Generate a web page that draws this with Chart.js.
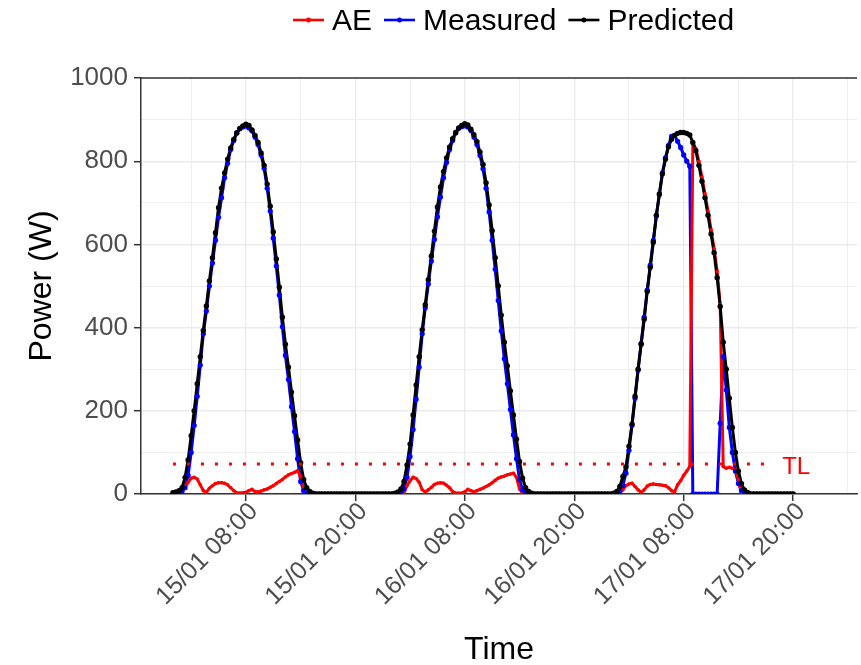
<!DOCTYPE html>
<html><head><meta charset="utf-8">
<script src="https://cdn.jsdelivr.net/npm/chart.js@4.4.1/dist/chart.umd.min.js"></script>
<style>html,body{margin:0;padding:0;background:#fff;}#wrap{width:861px;height:665px;}</style>
</head><body><div id="wrap"><canvas id="c" width="861" height="665"></canvas></div>
<script>
// Samples every 20 minutes starting at 15/01 00:00 (x value = hours since that instant)
const sampleStepHours = 1 / 3;
const seriesNames = ['AE', 'Measured', 'Predicted'];
const seriesColors = ['#FF0000', '#0000FF', '#000000'];

const predicted = [
  3,5,8,15,40,82,140,200,265,330,393,452,512,568,628,688,735,772,805,832,852,868,879,885,889,886,875,862,845,820,790,745,692,630,565,497,425,360,305,245,188,130,75,35,15,6,2,0,
  0,0,0,0,0,0,0,0,0,0,0,0,0,0,0,0,0,0,0,0,0,0,0,0,
  0,2,5,12,30,70,120,190,262,330,395,455,515,572,632,690,738,775,808,834,854,869,880,886,890,887,877,864,847,822,792,748,695,633,568,500,430,365,308,248,190,132,78,38,15,6,2,0,
  0,0,0,0,0,0,0,0,0,0,0,0,0,0,0,0,0,0,0,0,0,0,0,0,
  0,2,6,18,42,65,115,168,235,300,360,420,487,545,605,670,720,770,805,835,853,862,867,869,869,867,863,845,825,790,752,712,670,625,580,520,451,365,300,230,160,100,55,25,10,4,0,
  0,0,0,0,0,0,0,0,0,0,0,0,0,0
];
const measured = [
  0,2,4,6,15,45,100,165,235,310,385,440,500,555,610,665,712,760,795,828,850,868,878,882,884,880,873,858,840,815,783,735,680,615,548,478,402,333,275,210,150,85,30,8,2,0,0,0,
  0,0,0,0,0,0,0,0,0,0,0,0,0,0,0,0,0,0,0,0,0,0,0,0,
  0,0,2,5,12,40,90,155,228,305,385,448,505,560,612,666,714,760,797,828,850,868,879,883,885,882,874,858,840,814,782,735,678,610,540,465,392,325,265,203,142,85,35,10,3,0,0,0,
  0,0,0,0,0,0,0,0,0,0,0,0,0,0,0,0,0,0,0,0,0,0,0,0,
  0,0,2,6,20,50,105,165,230,298,362,425,490,550,610,668,722,772,808,838,860,862,848,833,815,800,788,0,0,0,0,0,0,0,0,0,170,330,250,160,100,55,25,8,2,0,0,
  0,0,0,0,0,0,0,0,0,0,0,0,0,0
];
const absError = [
  0,0,2,8,16,28,38,40,36,22,8,4,14,20,25,27,27,26,22,15,8,3,2,3,4,8,11,6,5,7,10,12,16,20,25,30,35,41,46,49,52,56,42,10,2,0,0,0,
  0,0,0,0,0,0,0,0,0,0,0,0,0,0,0,0,0,0,0,0,0,0,0,0,
  0,0,0,1,3,20,32,40,37,28,10,5,10,16,23,26,27,26,21,15,6,2,2,2,5,11,8,5,8,11,14,18,22,27,33,38,41,43,46,48,50,40,12,2,0,0,0,0,
  0,0,0,0,0,0,0,0,0,0,0,0,0,0,0,0,0,0,0,0,0,0,0,0,
  0,0,0,3,10,20,24,26,18,10,4,10,19,23,24,23,22,21,20,15,8,5,22,32,45,55,66,845,830,800,762,722,680,635,590,535,455,66,62,64,62,58,35,0,0,0,
  0,0,0,0,0,0,0,0,0,0,0,0,0,0,0
];
const thresholdTL = 72;
const thresholdSpanHours = [0, 66];
const thresholdLabel = 'TL';
const thresholdLabelHour = 66.8;

const tickHours = [8, 20, 32, 44, 56, 68];
const tickLabels = ['15/01 08:00', '15/01 20:00', '16/01 08:00', '16/01 20:00', '17/01 08:00', '17/01 20:00'];
const gridHours = [2, 8, 14, 20, 26, 32, 38, 44, 50, 56, 62, 68, 74];
const xRangeHours = [-3.5, 75];
const yGrid = [0, 100, 200, 300, 400, 500, 600, 700, 800, 900, 1000];
const yLabelled = [0, 200, 400, 600, 800, 1000];

const FONT = "'Liberation Sans', Arial, sans-serif";
const toPts = arr => arr.map((v, i) => ({ x: i * sampleStepHours, y: v }));
const seriesData = [absError, measured, predicted];
// drawing layers (higher order = drawn earlier): Measured line, AE line, Predicted line, then points
const lineOrder = [9, 10, 8];
const pointOrder = [6, 5, 4];
const pointRadius = [1.8, 2.6, 2.7];

const datasets = [];
seriesData.forEach((arr, k) => datasets.push({
  label: seriesNames[k] + ' line', data: toPts(arr), borderColor: seriesColors[k],
  backgroundColor: seriesColors[k], borderWidth: 3, pointRadius: 0, tension: 0, order: lineOrder[k]
}));
seriesData.forEach((arr, k) => datasets.push({
  label: seriesNames[k] + ' points', data: toPts(arr), showLine: false,
  pointRadius: pointRadius[k], pointBorderWidth: 0, pointBackgroundColor: seriesColors[k], order: pointOrder[k]
}));
datasets.push({
  label: 'TL', data: thresholdSpanHours.map(h => ({ x: h, y: thresholdTL })),
  borderColor: '#FF0000', borderWidth: 3, borderDash: [3, 11], borderCapStyle: 'butt',
  pointRadius: 0, order: 0
});

const extras = {
  id: 'extras',
  afterDatasetsDraw(chart) {
    const { ctx, chartArea: a, scales: { x, y } } = chart;
    ctx.save();
    ctx.fillStyle = '#FF0000';
    ctx.font = '24px ' + FONT;
    ctx.textAlign = 'left';
    ctx.textBaseline = 'middle';
    ctx.fillText(thresholdLabel, x.getPixelForValue(thresholdLabelHour), y.getPixelForValue(thresholdTL) + 3);
    ctx.strokeStyle = '#333333';
    ctx.lineWidth = 1.5;
    ctx.beginPath();
    ctx.moveTo(a.left, a.top);
    ctx.lineTo(a.right, a.top);
    ctx.stroke();
    ctx.restore();
  },
  afterDraw(chart) {
    const { ctx } = chart;
    ctx.save();
    ctx.font = '30px ' + FONT;
    ctx.textBaseline = 'middle';
    ctx.textAlign = 'left';
    let xPos = 293;
    const yLine = 20, lineLen = 31, gap = 8, spacing = 12;
    seriesNames.forEach((name, k) => {
      ctx.strokeStyle = seriesColors[k];
      ctx.lineWidth = 2.6;
      ctx.beginPath();
      ctx.moveTo(xPos, yLine);
      ctx.lineTo(xPos + lineLen, yLine);
      ctx.stroke();
      ctx.fillStyle = seriesColors[k];
      ctx.beginPath();
      ctx.arc(xPos + lineLen / 2, yLine, 2.5, 0, Math.PI * 2);
      ctx.fill();
      ctx.fillStyle = '#000000';
      const tx = xPos + lineLen + gap;
      ctx.fillText(name, tx, yLine + 2);
      xPos = tx + ctx.measureText(name).width + spacing;
    });
    ctx.restore();
  }
};

new Chart(document.getElementById('c'), {
  type: 'line',
  data: { datasets },
  options: {
    responsive: false,
    devicePixelRatio: 1,
    animation: false,
    events: [],
    layout: { padding: { top: 78, left: 0, right: 0, bottom: 0 } },
    plugins: { legend: { display: false }, tooltip: { enabled: false } },
    scales: {
      x: {
        type: 'linear', min: xRangeHours[0], max: xRangeHours[1],
        afterBuildTicks: s => { s.ticks = gridHours.map(v => ({ value: v })); },
        afterFit: s => { s.height = 171; s.paddingLeft = 0; s.paddingRight = 0; },
        ticks: {
          autoSkip: false, maxRotation: 45, minRotation: 45, padding: -4, labelOffset: 8,
          color: '#4D4D4D', font: { family: FONT, size: 25 },
          callback: v => { const i = tickHours.indexOf(v); return i >= 0 ? tickLabels[i] : ''; }
        },
        grid: {
          color: '#EBEBEB',
          lineWidth: c => tickHours.includes(c.tick && c.tick.value) ? 1.4 : 0.8,
          tickColor: c => tickHours.includes(c.tick && c.tick.value) ? '#333333' : 'rgba(0,0,0,0)',
          tickLength: 7, tickWidth: 1.5
        },
        border: { display: true, color: '#333333', width: 1.5 },
        title: { display: true, text: 'Time', color: '#000000', font: { family: FONT, size: 32, lineHeight: 0.9 }, padding: { top: 0, bottom: 0 } }
      },
      y: {
        type: 'linear', min: 0, max: 1000,
        afterBuildTicks: s => { s.ticks = yGrid.map(v => ({ value: v })); },
        afterFit: s => { s.width = 141; s.paddingTop = 0; s.paddingBottom = 0; },
        ticks: {
          padding: 6, color: '#4D4D4D', font: { family: FONT, size: 26 },
          callback: v => yLabelled.includes(v) ? String(v) : ''
        },
        grid: {
          color: '#EBEBEB',
          lineWidth: c => yLabelled.includes(c.tick && c.tick.value) ? 1.4 : 0.8,
          tickColor: c => yLabelled.includes(c.tick && c.tick.value) ? '#333333' : 'rgba(0,0,0,0)',
          tickLength: 7, tickWidth: 1.5
        },
        border: { display: true, color: '#333333', width: 1.5 },
        title: { display: true, text: 'Power (W)', color: '#000000', font: { family: FONT, size: 32, lineHeight: 1.2 }, padding: { top: 23, bottom: 0 } }
      }
    }
  },
  plugins: [extras]
});
</script></body></html>
